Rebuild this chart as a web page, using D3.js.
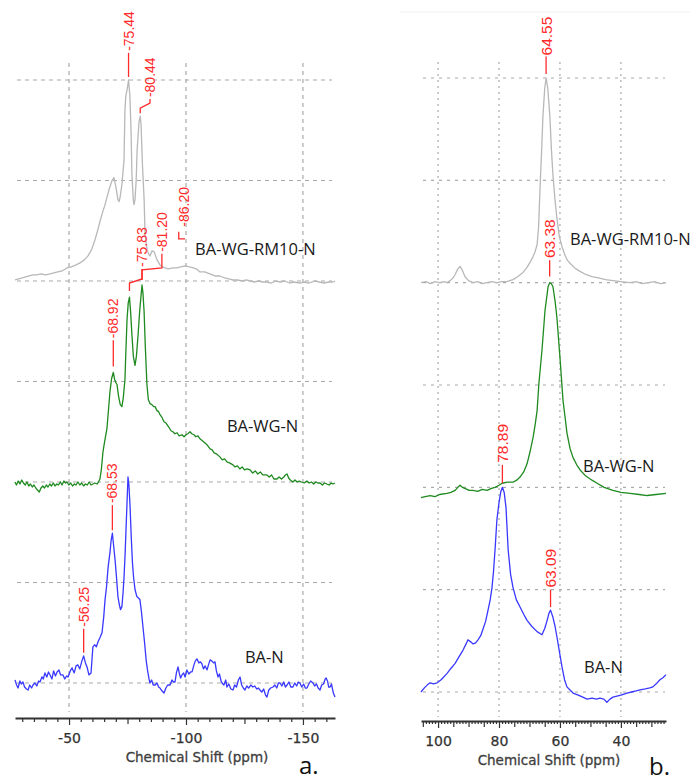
<!DOCTYPE html>
<html><head><meta charset="utf-8">
<script src="https://cdn.jsdelivr.net/npm/d3@7"></script>
<style>body{margin:0;background:#fff}svg{display:block}</style>
</head><body><svg id="c" width="698" height="783"></svg>
<script>
// ---------------- DATA ----------------
const seriesNames = ["BA-WG-RM10-N", "BA-WG-N", "BA-N"];
const seriesColors = ["#b8b8b8", "#1f8a1f", "#3838ff"];
const seriesOffsets = [4, 2, 0];            // stacked baselines (grid units)
const gridLevels = [0, 1, 2, 3, 4, 5, 6];
const ticksA = [-50, -100, -150];
const ticksB = [100, 80, 60, 40];

// Panel a: 29Si (ppm, intensity)
const a_RM10 = [[-26.9,0.01],[-28.5,0.02],[-30.0,0.03],[-31.5,0.04],[-33.0,0.05],[-34.6,0.06],[-36.2,0.06],[-38.0,0.07],[-40.0,0.06],[-41.9,0.07],[-43.5,0.08],[-45.2,0.09],[-47.0,0.10],[-49.1,0.13],[-51.0,0.14],[-53.0,0.16],[-54.7,0.18],[-56.5,0.21],[-58.1,0.25],[-59.6,0.31],[-61.1,0.41],[-62.2,0.50],[-63.2,0.59],[-64.3,0.68],[-65.4,0.76],[-66.3,0.84],[-67.1,0.91],[-68.4,1.00],[-69.2,1.03],[-70.1,0.93],[-70.9,0.81],[-71.4,0.79],[-71.8,0.83],[-72.6,0.96],[-73.5,1.20],[-73.9,1.70],[-74.3,1.85],[-74.8,1.90],[-75.44,2.00],[-76.0,1.85],[-76.5,1.50],[-76.9,1.05],[-77.5,0.80],[-77.8,0.76],[-78.2,0.81],[-78.7,1.00],[-79.1,1.30],[-79.9,1.58],[-80.44,1.64],[-80.8,1.55],[-81.4,1.15],[-82.1,0.81],[-82.5,0.46],[-83.4,0.31],[-84.0,0.27],[-84.6,0.25],[-85.5,0.30],[-86.4,0.29],[-87.6,0.21],[-88.9,0.16],[-90.0,0.14],[-91.0,0.13],[-92.5,0.12],[-94.4,0.13],[-96.0,0.13],[-97.8,0.14],[-99.6,0.15],[-101.5,0.14],[-103.0,0.13],[-104.5,0.12],[-106.0,0.09],[-108.0,0.09],[-110.2,0.07],[-112.4,0.05],[-114.5,0.05],[-116.5,0.03],[-118.3,0.02],[-120.1,0.01],[-122.0,0.01],[-124.0,0.00],[-125.8,0.01],[-127.4,0.00],[-129.2,-0.01],[-131.0,0.00],[-132.8,-0.01],[-134.6,-0.01],[-136.5,-0.02],[-138.4,0.00],[-140.3,-0.01],[-142.3,0.00],[-144.2,-0.02],[-146.0,-0.01],[-148.7,-0.02],[-150.6,-0.01],[-152.4,-0.02],[-155.2,0.00],[-157.0,-0.01],[-159.0,-0.02],[-161.0,-0.01],[-162.8,-0.01],[-163.7,0.00]];

const a_WG = [[-26.9,0.00],[-27.5,-0.03],[-28.3,0.01],[-29.0,-0.02],[-29.8,0.02],[-30.5,-0.01],[-31.3,-0.03],[-32.0,0.00],[-32.8,-0.04],[-33.5,-0.02],[-34.3,-0.05],[-35.0,-0.03],[-35.8,-0.06],[-36.5,-0.08],[-37.3,-0.10],[-38.0,-0.06],[-38.8,-0.04],[-39.5,-0.06],[-40.3,-0.03],[-41.0,-0.05],[-41.8,-0.02],[-42.5,-0.04],[-43.3,-0.01],[-44.0,-0.04],[-44.8,-0.02],[-45.5,-0.03],[-46.3,0.00],[-47.0,-0.03],[-47.8,0.01],[-48.5,-0.01],[-49.1,0.00],[-49.9,-0.03],[-50.7,-0.01],[-51.5,-0.04],[-52.3,-0.02],[-53.0,-0.03],[-53.8,0.00],[-54.6,-0.03],[-55.4,-0.01],[-56.2,-0.04],[-57.0,-0.02],[-57.8,-0.03],[-58.6,0.00],[-59.4,-0.03],[-60.2,-0.02],[-61.0,-0.01],[-62.0,-0.02],[-62.6,0.00],[-63.2,0.03],[-63.8,0.12],[-64.5,0.30],[-65.2,0.40],[-66.2,0.53],[-66.8,0.70],[-67.5,0.90],[-68.2,1.03],[-68.92,1.09],[-69.5,1.02],[-70.0,0.99],[-70.5,0.97],[-71.2,0.85],[-71.9,0.77],[-72.6,0.75],[-73.2,0.84],[-73.9,1.02],[-74.3,1.30],[-74.8,1.62],[-75.3,1.78],[-75.83,1.84],[-76.3,1.70],[-76.9,1.46],[-77.5,1.25],[-78.2,1.16],[-78.8,1.25],[-79.5,1.46],[-80.2,1.70],[-80.8,1.86],[-81.2,1.96],[-81.6,1.88],[-82.1,1.69],[-82.6,1.35],[-83.3,0.97],[-83.9,0.82],[-84.6,0.78],[-85.4,0.77],[-86.2,0.75],[-86.8,0.75],[-87.6,0.71],[-88.3,0.70],[-88.9,0.67],[-89.8,0.64],[-90.6,0.60],[-91.3,0.59],[-91.9,0.57],[-92.8,0.54],[-93.6,0.51],[-94.4,0.50],[-95.3,0.48],[-96.2,0.49],[-97.0,0.46],[-98.3,0.47],[-99.2,0.45],[-100.0,0.47],[-100.8,0.48],[-101.7,0.50],[-102.5,0.48],[-103.4,0.47],[-104.2,0.45],[-105.1,0.46],[-106.0,0.43],[-107.0,0.41],[-108.0,0.39],[-109.0,0.37],[-110.3,0.33],[-111.2,0.32],[-112.0,0.29],[-113.0,0.28],[-114.5,0.25],[-115.5,0.22],[-116.5,0.23],[-117.5,0.20],[-118.6,0.19],[-120.1,0.17],[-121.0,0.15],[-122.0,0.16],[-123.0,0.13],[-124.0,0.15],[-125.0,0.12],[-126.2,0.13],[-127.4,0.12],[-128.5,0.09],[-129.6,0.11],[-130.7,0.08],[-131.8,0.10],[-132.8,0.07],[-134.6,0.07],[-135.6,0.05],[-136.6,0.07],[-137.6,0.03],[-138.9,0.03],[-139.8,0.05],[-140.8,0.03],[-141.8,0.05],[-142.5,0.07],[-143.2,0.08],[-143.9,0.04],[-144.6,0.02],[-145.7,0.00],[-146.6,0.02],[-147.5,0.00],[-148.4,0.01],[-149.4,0.00],[-150.5,-0.01],[-151.7,0.01],[-152.6,-0.01],[-153.6,0.00],[-154.6,-0.02],[-155.5,0.00],[-156.4,-0.01],[-157.3,-0.01],[-158.3,-0.03],[-159.2,-0.01],[-160.2,-0.02],[-161.2,-0.03],[-162.0,-0.01],[-162.8,-0.02],[-163.7,-0.01]];

const a_BA = [[-26.9,0.03],[-27.6,-0.02],[-28.2,-0.05],[-29.0,0.02],[-29.6,-0.01],[-30.3,0.01],[-31.0,-0.04],[-31.8,-0.06],[-32.5,-0.07],[-33.2,-0.02],[-34.0,-0.05],[-34.6,-0.02],[-35.4,0.00],[-36.2,-0.03],[-37.0,0.02],[-37.6,0.01],[-38.4,0.06],[-39.0,0.04],[-39.7,0.10],[-40.5,0.06],[-41.2,0.11],[-41.9,0.08],[-42.7,0.04],[-43.4,0.12],[-44.2,0.07],[-44.9,0.11],[-45.7,0.13],[-46.4,0.08],[-47.4,0.08],[-48.2,0.04],[-49.0,0.07],[-49.6,0.06],[-50.5,0.12],[-51.3,0.15],[-52.2,0.10],[-53.0,0.17],[-53.8,0.18],[-54.6,0.14],[-55.5,0.22],[-56.25,0.27],[-57.0,0.20],[-57.7,0.16],[-58.5,0.08],[-59.4,0.10],[-60.2,0.36],[-61.0,0.38],[-61.7,0.36],[-62.4,0.41],[-63.2,0.45],[-64.1,0.50],[-64.8,0.65],[-65.4,0.83],[-66.0,0.95],[-66.7,1.15],[-67.5,1.30],[-68.0,1.42],[-68.53,1.49],[-69.0,1.38],[-69.7,1.22],[-70.3,1.05],[-70.9,0.86],[-71.5,0.78],[-72.0,0.73],[-72.6,0.76],[-73.1,0.90],[-73.5,1.05],[-74.0,1.30],[-74.3,1.49],[-74.8,1.80],[-75.2,2.05],[-75.6,1.97],[-76.1,1.75],[-76.6,1.45],[-77.1,1.20],[-77.6,1.05],[-78.2,0.93],[-79.0,0.86],[-80.3,0.83],[-80.9,0.72],[-81.6,0.56],[-82.3,0.40],[-83.0,0.22],[-83.6,0.12],[-84.2,0.04],[-84.6,0.00],[-85.3,0.03],[-86.0,-0.02],[-86.8,-0.02],[-87.6,0.00],[-88.3,-0.04],[-88.9,-0.05],[-89.8,-0.08],[-90.6,-0.10],[-91.4,-0.05],[-92.2,-0.02],[-93.2,-0.02],[-94.0,0.03],[-94.6,0.01],[-95.3,0.01],[-95.9,0.10],[-96.6,0.16],[-97.2,0.09],[-97.7,0.05],[-98.3,0.08],[-99.0,0.10],[-99.6,0.06],[-100.4,0.13],[-101.2,0.09],[-102.0,0.11],[-102.6,0.11],[-103.4,0.18],[-104.0,0.22],[-104.7,0.24],[-105.5,0.20],[-106.2,0.21],[-106.8,0.19],[-107.5,0.14],[-108.2,0.17],[-109.0,0.13],[-109.6,0.18],[-110.3,0.23],[-111.0,0.22],[-111.8,0.20],[-112.4,0.21],[-113.0,0.12],[-113.7,0.06],[-114.3,0.09],[-115.0,0.02],[-115.4,0.00],[-116.2,-0.02],[-117.0,0.03],[-117.5,-0.04],[-118.3,-0.01],[-119.2,-0.06],[-120.1,-0.07],[-120.8,-0.02],[-121.6,-0.04],[-122.4,0.03],[-123.1,0.06],[-123.8,-0.02],[-124.5,-0.05],[-125.2,-0.07],[-126.0,-0.03],[-126.8,-0.05],[-127.7,-0.02],[-128.6,-0.04],[-129.4,-0.03],[-130.3,-0.06],[-131.0,-0.05],[-131.6,-0.07],[-132.4,-0.09],[-133.2,-0.06],[-134.0,-0.12],[-134.6,-0.14],[-135.4,-0.07],[-136.2,-0.05],[-137.2,-0.04],[-138.0,-0.02],[-138.8,-0.05],[-139.5,0.00],[-140.2,0.00],[-141.0,-0.03],[-141.8,0.01],[-142.5,-0.04],[-143.2,-0.02],[-144.0,0.01],[-144.8,-0.04],[-145.7,-0.04],[-146.5,0.00],[-147.3,-0.03],[-148.0,0.01],[-148.7,0.00],[-149.5,-0.04],[-150.3,-0.01],[-151.0,-0.05],[-151.7,-0.05],[-152.5,-0.01],[-153.3,0.02],[-154.3,0.00],[-155.0,-0.03],[-155.8,-0.01],[-156.5,-0.05],[-157.3,-0.07],[-158.0,-0.02],[-158.8,-0.01],[-159.5,0.04],[-159.9,0.05],[-160.5,0.02],[-161.0,-0.04],[-161.6,-0.04],[-162.2,-0.01],[-163.0,-0.10],[-163.7,-0.14]];

// Panel b: 27Al (ppm, intensity)
const b_RM10 = [[105.6,0.00],[104.0,0.01],[102.5,-0.01],[101.0,0.01],[99.5,0.00],[98.0,0.01],[97.1,0.00],[96.0,0.02],[95.0,0.05],[94.4,0.08],[93.6,0.13],[92.8,0.16],[92.0,0.12],[91.2,0.06],[90.0,0.02],[88.5,0.00],[87.0,0.01],[85.5,-0.01],[84.0,0.00],[82.5,0.01],[80.7,0.00],[79.0,0.01],[77.5,0.01],[75.4,0.03],[73.8,0.06],[72.1,0.10],[70.8,0.15],[69.8,0.20],[68.9,0.25],[68.2,0.30],[67.5,0.37],[67.0,0.55],[66.5,0.95],[66.0,1.30],[65.6,1.62],[65.0,1.90],[64.55,2.00],[64.0,1.90],[63.3,1.62],[62.8,1.30],[62.3,1.05],[61.6,0.80],[61.0,0.63],[60.2,0.45],[59.3,0.35],[58.5,0.28],[57.6,0.22],[56.7,0.19],[55.0,0.14],[53.4,0.11],[51.5,0.08],[49.5,0.06],[47.8,0.05],[45.0,0.03],[42.6,0.02],[40.0,0.01],[37.0,0.00],[35.0,0.01],[33.0,-0.01],[31.0,0.00],[29.0,0.01],[27.0,-0.01],[25.2,0.00]];

const b_WG = [[105.6,-0.10],[104.2,-0.09],[102.6,-0.08],[101.0,-0.09],[99.5,-0.07],[97.1,-0.06],[95.8,-0.05],[94.4,-0.03],[93.5,0.00],[92.8,0.02],[92.0,0.00],[91.2,-0.01],[89.8,-0.03],[88.5,-0.03],[87.0,-0.04],[85.5,-0.02],[83.9,-0.03],[82.5,-0.01],[81.3,0.00],[80.0,0.02],[79.0,0.04],[77.2,0.05],[75.4,0.05],[74.2,0.07],[73.1,0.10],[71.9,0.15],[70.8,0.23],[69.8,0.35],[68.8,0.49],[68.1,0.62],[67.5,0.75],[66.9,1.02],[65.9,1.34],[64.9,1.73],[63.9,1.96],[63.38,2.00],[62.8,1.99],[62.3,1.96],[61.6,1.82],[61.0,1.66],[60.0,1.27],[59.0,0.85],[58.3,0.68],[57.7,0.53],[56.7,0.38],[55.7,0.29],[54.5,0.22],[53.4,0.17],[51.5,0.11],[49.5,0.07],[47.8,0.04],[45.5,0.00],[42.6,-0.03],[40.0,-0.05],[37.0,-0.06],[34.0,-0.07],[31.4,-0.08],[28.5,-0.07],[25.2,-0.06]];

const b_BA = [[105.6,0.00],[104.5,0.04],[103.5,0.07],[102.6,0.09],[101.5,0.08],[100.3,0.09],[99.0,0.12],[97.1,0.18],[95.8,0.23],[94.4,0.28],[93.0,0.35],[91.8,0.41],[90.8,0.47],[90.2,0.51],[89.3,0.49],[88.5,0.47],[87.7,0.48],[86.9,0.51],[86.0,0.55],[85.3,0.61],[84.4,0.69],[83.6,0.80],[82.9,0.90],[82.3,1.02],[81.8,1.18],[81.3,1.39],[80.7,1.68],[80.0,1.85],[79.4,1.96],[78.89,2.00],[78.3,1.95],[77.7,1.80],[77.0,1.39],[76.2,1.15],[75.4,1.02],[74.3,0.90],[73.1,0.83],[71.9,0.76],[70.8,0.70],[69.2,0.64],[67.5,0.59],[65.9,0.56],[65.0,0.62],[64.2,0.70],[63.6,0.77],[63.09,0.80],[62.3,0.73],[61.6,0.64],[61.0,0.54],[60.1,0.38],[59.3,0.24],[58.5,0.12],[57.7,0.05],[56.7,0.02],[55.7,-0.01],[54.0,-0.03],[52.5,-0.05],[51.1,-0.07],[49.5,-0.06],[48.0,-0.07],[46.9,-0.06],[45.6,-0.07],[44.6,-0.10],[43.6,-0.07],[42.6,-0.05],[41.3,-0.04],[40.0,-0.03],[38.0,-0.01],[36.5,0.00],[35.0,0.01],[33.7,0.02],[32.0,0.03],[30.5,0.04],[29.5,0.05],[28.4,0.08],[27.2,0.12],[26.2,0.14],[25.2,0.17]];

// Peak annotations: text, text foot [ppm, level], leader polyline [[ppm, level],...]
const peaksA = [
  {t:"-75.44", at:[-75.44,6.29], path:[[-75.44,6.27],[-75.44,6.03]]},
  {t:"-80.44", at:[-84.6,5.83],  path:[[-84.6,5.81],[-84.6,5.77],[-80.44,5.72],[-80.44,5.67]]},
  {t:"-68.92", at:[-68.92,3.43], path:[[-68.92,3.41],[-68.92,3.15]]},
  {t:"-75.83", at:[-81.2,4.14],  path:[[-81.2,4.12],[-81.2,4.02],[-75.83,3.98],[-75.83,3.90]]},
  {t:"-81.20", at:[-89.7,4.29],  path:[[-89.7,4.27],[-89.7,4.13],[-81.2,4.11],[-81.2,4.01]]},
  {t:"-86.20", at:[-99.1,4.54],  path:[[-96.9,4.49],[-96.9,4.42],[-99.6,4.42]]},
  {t:"-68.53", at:[-68.53,1.79], path:[[-68.53,1.77],[-68.53,1.52]]},
  {t:"-56.25", at:[-56.25,0.56], path:[[-56.25,0.54],[-56.25,0.30]]}
];
const peaksB = [
  {t:"64.55", at:[64.55,6.22], path:[[64.55,6.21],[64.55,6.04]]},
  {t:"63.38", at:[63.38,4.24], path:[[63.38,4.22],[63.38,4.06]]},
  {t:"78.89", at:[78.89,2.24], path:[[78.89,2.22],[78.89,2.04]]},
  {t:"63.09", at:[63.09,1.02], path:[[63.09,1.00],[63.09,0.83]]}
];

// ---------------- DRAW ----------------
const svg = d3.select("#c");
svg.append("rect").attr("width",698).attr("height",783).attr("fill","#fff");

function panel(cfg){
  const {x, y, spectra, peaks, ticks, minorStep, medStep, axisY, tickRange,
         gridX0, gridX1, vTop, vBot, hDash, vDash, labelFont, names, title, letter} = cfg;
  const g = svg.append("g");
  // grid
  g.selectAll(".hg").data(gridLevels).join("line")
    .attr("x1", gridX0).attr("x2", gridX1)
    .attr("y1", d => y(d)).attr("y2", d => y(d))
    .attr("stroke","#aaa").attr("stroke-width",1.2).attr("stroke-dasharray",hDash);
  g.selectAll(".vg").data(ticks).join("line")
    .attr("x1", d => x(d)).attr("x2", d => x(d))
    .attr("y1", vTop).attr("y2", vBot)
    .attr("stroke","#aaa").attr("stroke-width",1.2).attr("stroke-dasharray",vDash);
  // spectra
  const line = d3.line().x(d => x(d[0]));
  spectra.forEach((s, i) => {
    g.append("path").datum(s)
      .attr("d", line.y(d => y(d[1] + seriesOffsets[i])))
      .attr("fill","none").attr("stroke", seriesColors[i])
      .attr("stroke-width", 1.3).attr("stroke-linejoin","round");
  });
  // series labels
  names.forEach((n, i) => {
    g.append("text").attr("x", x(n.p)).attr("y", y(n.v))
      .attr("font-family","'Open Sans', 'Liberation Sans', sans-serif")
      .attr("font-size", 16.5).attr("fill","#1a1a1a").text(seriesNames[i]);
  });
  // peak labels
  const pl = d3.line().x(d => x(d[0])).y(d => y(d[1]));
  peaks.forEach(pk => {
    g.append("path").attr("d", pl(pk.path)).attr("fill","none")
      .attr("stroke","#ff2a2a").attr("stroke-width",1.3);
    g.append("text")
      .attr("transform", `translate(${x(pk.at[0])},${y(pk.at[1])}) rotate(-90)`)
      .attr("dy","0.36em").attr("text-anchor","start")
      .attr("font-family","'Liberation Sans', Arial, sans-serif")
      .attr("font-size", labelFont).attr("fill","#ff2a2a").text(pk.t);
  });
  // axis
  const tv = d3.range(tickRange[0], tickRange[1], tickRange[2]);
  const ax = g.append("g").attr("transform",`translate(0,${axisY})`)
    .call(d3.axisBottom(x).tickValues(tv).tickSize(3).tickSizeOuter(0)
      .tickFormat(d => ticks.includes(d) ? String(d) : ""));
  ax.select(".domain").attr("stroke","#333").attr("stroke-width",2);
  ax.selectAll(".tick line").attr("stroke","#333").attr("stroke-width",1.2)
    .attr("y2", d => ticks.includes(d) ? 7 : (d % medStep === 0 ? 6 : (minorStep===1 ? 3 : 4)));
  ax.selectAll(".tick text").attr("y",15).attr("dy","0.71em")
    .attr("font-family","'DejaVu Sans', Verdana, sans-serif").attr("font-size",14)
    .attr("fill","#333").attr("stroke","#333").attr("stroke-width",0.25);
  g.append("text").attr("x", title.x).attr("y", title.y).attr("text-anchor","middle")
    .attr("font-family","'DejaVu Sans', Verdana, sans-serif").attr("font-size",13.5)
    .attr("fill","#3e3e3e").attr("stroke","#3e3e3e").attr("stroke-width",0.3)
    .text("Chemical Shift (ppm)");
  g.append("text").attr("x", letter.x).attr("y", letter.y)
    .attr("font-family","'Open Sans', sans-serif").attr("font-size",24)
    .attr("fill","#111").text(letter.t);
}

const xA = d3.scaleLinear().domain([-26.9, -163.7]).range([15, 335]);
const yA = d3.scaleLinear().domain([0, 6]).range([683, 80]);
const xB = d3.scaleLinear().domain([105.6, 25.2]).range([421, 666]);
const yB = d3.scaleLinear().domain([0, 6]).range([692, 78]);

// faint frame line at top of panel b
svg.append("line").attr("x1",400).attr("x2",690).attr("y1",12).attr("y2",12)
  .attr("stroke","#f0f0f0").attr("stroke-width",1);

panel({x:xA, y:yA, spectra:[a_RM10, a_WG, a_BA], peaks:peaksA, ticks:ticksA,
  minorStep:5, medStep:25, axisY:718, tickRange:[-30,-161,-5],
  gridX0:17, gridX1:332, vTop:63, vBot:712, hDash:"4,4", vDash:"4,4", labelFont:14,
  names:[{p:-103.9,v:4.26},{p:-117.5,v:2.50},{p:-125.2,v:0.20}],
  title:{x:197,y:762}, letter:{x:299,y:774,t:"a."}});

panel({x:xB, y:yB, spectra:[b_RM10, b_WG, b_BA], peaks:peaksB, ticks:ticksB,
  minorStep:1, medStep:5, axisY:721, tickRange:[26,106,1],
  gridX0:423, gridX1:665, vTop:62, vBot:717, hDash:"3,5", vDash:"2,4", labelFont:15.5,
  names:[{p:56.7,v:4.37},{p:52.4,v:2.15},{p:52.1,v:0.19}],
  title:{x:549,y:765}, letter:{x:649,y:775,t:"b."}});
</script></body></html>
